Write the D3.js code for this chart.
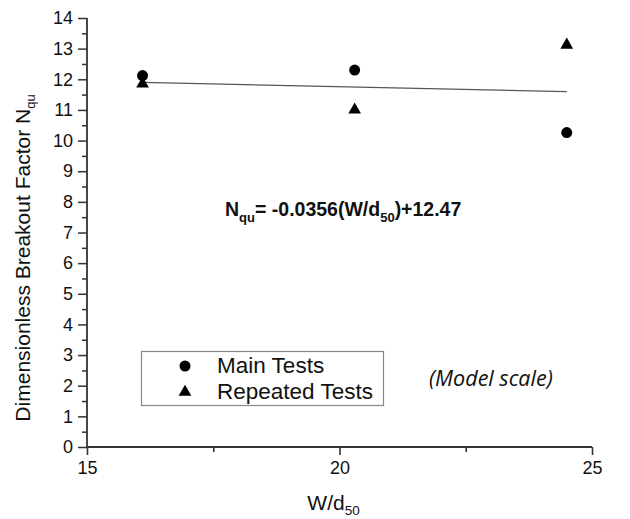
<!DOCTYPE html>
<html>
<head>
<meta charset="utf-8">
<script src="https://cdn.jsdelivr.net/npm/d3@7/dist/d3.min.js"></script>
<style>
  html, body { margin: 0; padding: 0; background: #fff; }
  svg { display: block; }
  text { font-family: "Liberation Sans", Arial, sans-serif; fill: #111; }
</style>
</head>
<body>
<svg id="chart" width="630" height="519"></svg>
<script>
// ---- data ----
const xValues = [16.1, 20.3, 24.5];
const mainTests = [12.12, 12.3, 10.26];
const repeatedTests = [11.85, 11.0, 13.12];
const fitSlope = -0.0356;
const fitIntercept = 12.47;
const xTicks = [15, 20, 25];
const xMinorTicks = [17.5, 22.5];
const yTicks = [0,1,2,3,4,5,6,7,8,9,10,11,12,13,14];
const yMinorTicks = [0.5,1.5,2.5,3.5,4.5,5.5,6.5,7.5,8.5,9.5,10.5,11.5,12.5,13.5];
const legendLabels = ["Main Tests", "Repeated Tests"];

const svg = d3.select("#chart");
const x = d3.scaleLinear().domain([15, 25]).range([87, 592]);
const y = d3.scaleLinear().domain([0, 14]).range([447, 18]);
const axisColor = "#333";

// X axis
const gx = svg.append("g").attr("transform", `translate(0,${y(0)})`);
gx.call(d3.axisBottom(x).tickValues(xTicks).tickSize(8).tickPadding(6).tickFormat(d3.format("d")));
gx.append("g").call(d3.axisBottom(x).tickValues(xMinorTicks).tickSize(5).tickFormat(""))
  .select(".domain").remove();
gx.selectAll(".domain").attr("stroke", axisColor).attr("stroke-width", 2.2).attr("d", `M${x(15)},0H${x(25)}`);
gx.selectAll(".tick line").attr("stroke", axisColor).attr("stroke-width", 1.6);
gx.selectAll(".tick text").attr("font-size", 18).attr("fill", "#111")
  .style("font-family", "Liberation Sans, Arial, sans-serif");

// Y axis
const gy = svg.append("g").attr("transform", `translate(${x(15)},0)`);
gy.call(d3.axisLeft(y).tickValues(yTicks).tickSize(9).tickPadding(5).tickFormat(d3.format("d")));
gy.append("g").call(d3.axisLeft(y).tickValues(yMinorTicks).tickSize(5).tickFormat(""))
  .select(".domain").remove();
gy.selectAll(".domain").attr("stroke", axisColor).attr("stroke-width", 1.8).attr("d", `M0,${y(0)}V${y(14)}`);
gy.selectAll(".tick line").attr("stroke", axisColor).attr("stroke-width", 1.5);
gy.selectAll(".tick text").attr("font-size", 18).attr("fill", "#111")
  .style("font-family", "Liberation Sans, Arial, sans-serif");

// Regression line
const xFit = d3.extent(xValues);
svg.append("line")
  .attr("x1", x(xFit[0])).attr("y1", y(fitSlope * xFit[0] + fitIntercept))
  .attr("x2", x(xFit[1])).attr("y2", y(fitSlope * xFit[1] + fitIntercept))
  .attr("stroke", "#555").attr("stroke-width", 1.3);

// markers
const circleSym = d3.symbol().type(d3.symbolCircle).size(95);
const triSym = d3.symbol().type(d3.symbolTriangle).size(70);

svg.append("g").selectAll("path").data(xValues.map((v, i) => [v, mainTests[i]]))
  .join("path").attr("d", circleSym)
  .attr("transform", d => `translate(${x(d[0])},${y(d[1])})`).attr("fill", "#000");
svg.append("g").selectAll("path").data(xValues.map((v, i) => [v, repeatedTests[i]]))
  .join("path").attr("d", triSym)
  .attr("transform", d => `translate(${x(d[0])},${y(d[1])})`).attr("fill", "#000");

// Equation
const eq = svg.append("text").attr("x", 225).attr("y", 216)
  .attr("font-size", 19.5).attr("font-weight", "bold");
eq.append("tspan").text("N");
eq.append("tspan").attr("font-size", 13).attr("dy", 6).text("qu");
eq.append("tspan").attr("dy", -6).text("= -0.0356(W/d");
eq.append("tspan").attr("font-size", 13).attr("dy", 6).text("50");
eq.append("tspan").attr("dy", -6).text(")+12.47");

// Legend
svg.append("rect").attr("x", 141.5).attr("y", 351.5).attr("width", 242).attr("height", 54)
  .attr("fill", "none").attr("stroke", "#888").attr("stroke-width", 1.2);
svg.append("path").attr("d", circleSym).attr("transform", "translate(185,366)").attr("fill", "#000");
svg.append("path").attr("d", triSym).attr("transform", "translate(185,392)").attr("fill", "#000");
svg.append("text").attr("x", 217).attr("y", 373).attr("font-size", 22.5).text(legendLabels[0]);
svg.append("text").attr("x", 217).attr("y", 399).attr("font-size", 22.5).text(legendLabels[1]);

// Model scale note
svg.append("text").attr("x", 429).attr("y", 386).attr("font-size", 21.5)
  .style("font-family", "'Open Sans', sans-serif").style("font-style", "italic")
  .text("(Model scale)");

// X axis title
const xt = svg.append("text").attr("x", x(20) - 6).attr("y", 510).attr("text-anchor", "middle")
  .attr("font-size", 21);
xt.append("tspan").text("W/d");
xt.append("tspan").attr("font-size", 13.5).attr("dy", 5).text("50");

// Y axis title
const yt = svg.append("text").attr("transform", "translate(30,258) rotate(-90)")
  .attr("text-anchor", "middle").attr("font-size", 21);
yt.append("tspan").text("Dimensionless Breakout Factor N");
yt.append("tspan").attr("font-size", 13).attr("dy", 5).text("qu");
</script>
</body>
</html>
